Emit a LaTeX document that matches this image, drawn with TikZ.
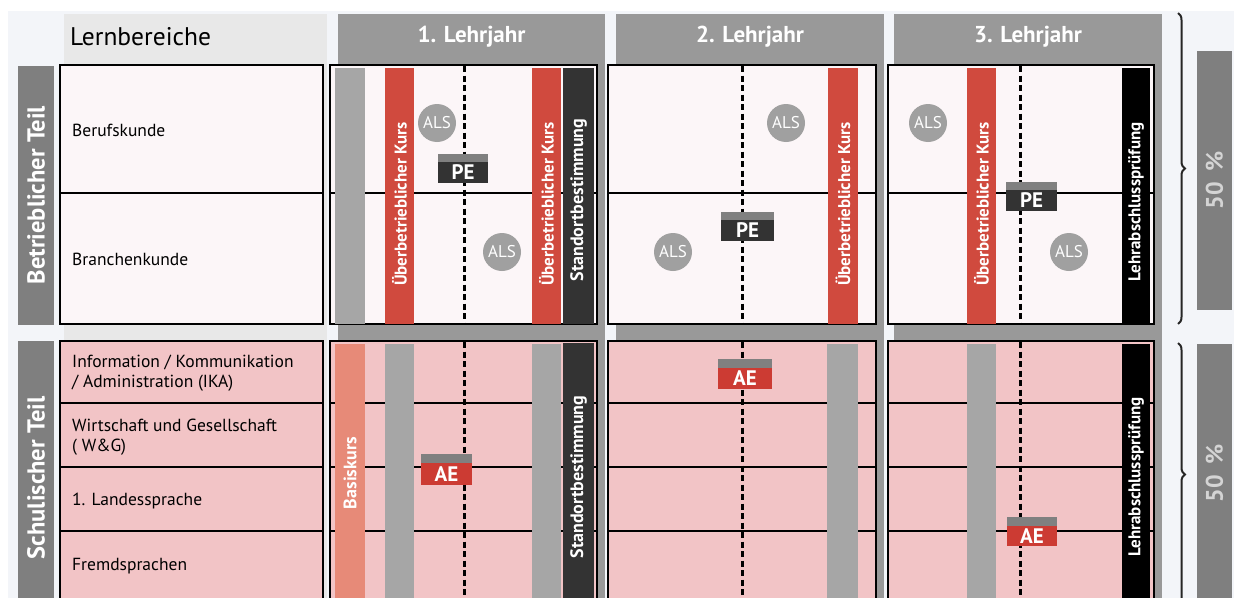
\documentclass[tikz,border=0pt]{standalone}
\usepackage{fontspec}
\setmainfont{PT Sans}
\usetikzlibrary{decorations.pathreplacing}
\definecolor{bgc}{HTML}{F3F5F9}
\definecolor{lgray}{HTML}{E8E8E8}
\definecolor{colgray}{HTML}{999999}
\definecolor{labgray}{HTML}{7F7F7F}
\definecolor{upfill}{HTML}{FCF6F8}
\definecolor{lowfill}{HTML}{F2C4C6}
\definecolor{bargray}{HTML}{A6A6A6}
\definecolor{barred}{HTML}{D04A3E}
\definecolor{salmon}{HTML}{E78A78}
\definecolor{darkbar}{HTML}{333333}
\definecolor{alsgray}{HTML}{A0A0A0}
\definecolor{stripe}{HTML}{808080}
\definecolor{aered}{HTML}{CC3B33}
\definecolor{pctext}{HTML}{D4D4D4}
\newcommand{\fsz}[1]{\fontsize{#1}{#1}\selectfont}
\newcommand{\fszb}[2]{\fontsize{#1}{#2}\selectfont}
\tikzset{
  gridline/.style={draw=black, line width=1.5pt},
  boxup/.style={fill=upfill, draw=black, line width=1.5pt},
  boxlow/.style={fill=lowfill, draw=black, line width=1.5pt},
  bartext/.style={rotate=90, text=white, inner sep=0pt, font=\bfseries\fsz{17}},
  leftlab/.style={rotate=90, text=white, inner sep=0pt, font=\bfseries\fsz{24.5}},
  rowtext/.style={anchor=west, inner sep=0pt, align=left, font=\fszb{17.5}{20}},
  yeartext/.style={text=white, inner sep=0pt, font=\bfseries\fsz{23}},
  dashline/.style={line width=3pt, dash pattern=on 6pt off 3.5pt},
  als/.style={circle, fill=alsgray, minimum size=38pt, inner sep=0pt, text=white, font=\fsz{17}},
  badgetext/.style={text=white, inner sep=0pt, font=\bfseries\fsz{21}},
  bracestyle/.style={decorate, decoration={brace, amplitude=7pt}, line width=2pt, draw=black!85},
  pct/.style={rotate=90, text=pctext, inner sep=0pt, font=\bfseries\fsz{24}}
}
\begin{document}
\begin{tikzpicture}[x=1pt,y=-1pt]
\useasboundingbox (0,0) rectangle (1234,597);
\clip (0,0) rectangle (1234,597);
% background
\fill[bgc] (8,11) rectangle (1234,600);
% column backgrounds
\fill[lgray] (64,14) rectangle (327,600);
\fill[colgray] (338,14) rectangle (605,600);
\fill[colgray] (616,14) rectangle (884,600);
\fill[colgray] (894,14) rectangle (1162,600);
% headers
\node[anchor=west, inner sep=0pt, font=\fsz{25.5}] (hlern) at (70,37) {Lernbereiche};
\node[yeartext] (h1) at (471.5,37) {1. Lehrjahr};
\node[yeartext] (h2) at (750,37) {2. Lehrjahr};
\node[yeartext] (h3) at (1028,37) {3. Lehrjahr};
% left labels
\fill[labgray] (18,66) rectangle (54,325);
\node[leftlab] (lab1) at (36,195) {Betrieblicher Teil};
\fill[labgray] (18,341) rectangle (54,600);
\node[leftlab] (lab2) at (36,478) {Schulischer Teil};
% upper boxes
\draw[boxup] (60,65) rectangle (323,324);
\draw[boxup] (330,65) rectangle (597,324);
\draw[boxup] (608,65) rectangle (876,324);
\draw[boxup] (888,65) rectangle (1154,324);
\foreach \a/\b in {60/323,330/597,608/876,888/1154}{
  \draw[gridline] (\a,193) -- (\b,193);
}
% lower boxes
\draw[boxlow] (60,341) rectangle (323,610);
\draw[boxlow] (330,341) rectangle (597,610);
\draw[boxlow] (608,341) rectangle (876,610);
\draw[boxlow] (888,341) rectangle (1154,610);
\foreach \a/\b in {60/323,330/597,608/876,888/1154}{
  \foreach \yy in {403,467,531}{
    \draw[gridline] (\a,\yy) -- (\b,\yy);
  }
}
% row texts
\node[rowtext] (r1) at (72,130) {Berufskunde};
\node[rowtext] (r2) at (72,259) {Branchenkunde};
\node[rowtext] (r3) at (72,373) {Information / Kommunikation\\/ Administration (IKA)};
\node[rowtext] (r4) at (72,437) {Wirtschaft und Gesellschaft\\( W\&G)};
\node[rowtext] (r5) at (72,501) {1. Landessprache};
\node[rowtext] (r6) at (72,566) {Fremdsprachen};
% dashed lines
\foreach \x in {464,742,1020}{
  \draw[dashline] (\x,66) -- (\x,323);
  \draw[dashline] (\x,342) -- (\x,597);
}
% upper bars
\fill[bargray] (335,68) rectangle (365,324);
\fill[barred] (385,68) rectangle (414,324);
\fill[barred] (532,68) rectangle (561,324);
\fill[darkbar] (563,68) rectangle (594,324);
\fill[barred] (828,68) rectangle (858,324);
\fill[barred] (967,68) rectangle (996,324);
\fill[black] (1122,68) rectangle (1150,324);
\node[bartext] (u1) at (399.5,204) {Überbetrieblicher Kurs};
\node[bartext] (u2) at (546.5,204) {Überbetrieblicher Kurs};
\node[bartext, font=\bfseries\fsz{18}] (u3) at (578.5,200) {Standortbestimmung};
\node[bartext] (u4) at (843,204) {Überbetrieblicher Kurs};
\node[bartext] (u5) at (981.5,204) {Überbetrieblicher Kurs};
\node[bartext] (u6) at (1136,202) {Lehrabschlussprüfung};
% lower bars
\fill[salmon] (335,344) rectangle (365,600);
\fill[bargray] (385,344) rectangle (414,600);
\fill[bargray] (532,344) rectangle (561,600);
\fill[darkbar] (563,343) rectangle (594,600);
\fill[bargray] (827,344) rectangle (858,600);
\fill[bargray] (967,344) rectangle (996,600);
\fill[black] (1122,344) rectangle (1150,600);
\node[bartext, font=\bfseries\fsz{18}] (l1) at (350,473) {Basiskurs};
\node[bartext, font=\bfseries\fsz{18}] (l2) at (578.5,477) {Standortbestimmung};
\node[bartext] (l3) at (1136,477) {Lehrabschlussprüfung};
% ALS circles
\node[als] (als1) at (437,123) {ALS};
\node[als] (als2) at (502,252) {ALS};
\node[als] (als3) at (786,123) {ALS};
\node[als] (als4) at (673,252) {ALS};
\node[als] (als5) at (928,123) {ALS};
\node[als] (als6) at (1069,252) {ALS};
% PE badges
\foreach \n/\xa/\ya/\xb/\yb in {pe1/438/154/488/183, pe2/721/212/774/241, pe3/1006/182/1057/211}{
  \fill[darkbar] (\xa,\ya) rectangle (\xb,\yb);
  \fill[stripe] (\xa,\ya) rectangle (\xb,\ya+8);
  \node[badgetext] (\n) at ({(\xa+\xb)/2},{(\ya+8+\yb)/2}) {PE};
}
% AE badges
\foreach \n/\xa/\ya/\xb/\yb in {ae1/421/454/472/485, ae2/718/359/772/389, ae3/1007/517/1057/546}{
  \fill[aered] (\xa,\ya) rectangle (\xb,\yb);
  \fill[stripe] (\xa,\ya) rectangle (\xb,\ya+9);
  \node[badgetext] (\n) at ({(\xa+\xb)/2},{(\ya+9+\yb)/2}) {AE};
}
% braces
\coordinate (b1t) at (1178,13);
\coordinate (b1b) at (1178,324);
\coordinate (b2t) at (1178,343);
\coordinate (b2b) at (1178,606);
\draw[bracestyle] (b1t) -- (b1b);
\draw[bracestyle] (b2t) -- (b2b);
% 50 % bars
\fill[labgray] (1197,51) rectangle (1232,310);
\node[pct] (p1) at (1214.5,180) {50\hspace{0.45em}\%};
\fill[labgray] (1197,344) rectangle (1232,600);
\node[pct] (p2) at (1214.5,473) {50\hspace{0.45em}\%};
\end{tikzpicture}
\end{document}
